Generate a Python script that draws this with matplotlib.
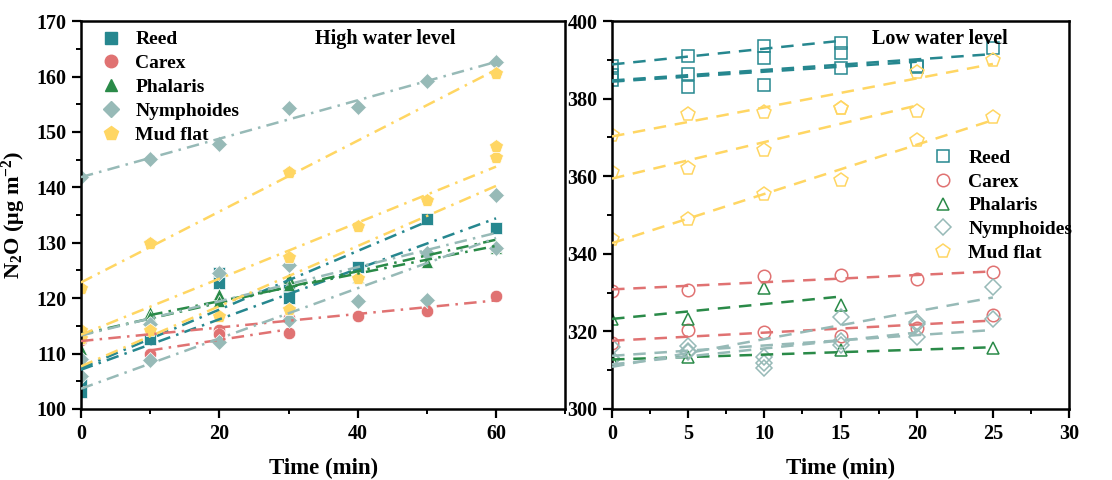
import numpy as np
import matplotlib
matplotlib.use("Agg")
import matplotlib.pyplot as plt
from matplotlib.lines import Line2D
from matplotlib.ticker import MultipleLocator

nan = np.nan
plt.rcParams['font.family'] = ['Liberation Serif', 'DejaVu Serif']
plt.rcParams['font.weight'] = 'bold'
plt.rcParams['mathtext.fontset'] = 'custom'
plt.rcParams['mathtext.rm'] = 'Liberation Serif:bold'
plt.rcParams['mathtext.it'] = 'Liberation Serif:bold'
plt.rcParams['mathtext.bf'] = 'Liberation Serif:bold'

species = ["Reed", "Carex", "Phalaris", "Nymphoides", "Mud flat"]
colors = ["#26878F", "#E07272", "#2A8A48", "#97BAB7", "#FFD663"]
markers = ["s", "o", "^", "D", "p"]

# ---- High water level (time 0..60 min) ----
t_high = [0, 10, 20, 30, 40, 50, 60]
reed_hi_1 = [104.6, 112.6, 124.5, 121.8, 125.7, 134.3, nan]
reed_hi_2 = [103.1, nan, 122.7, 120.0, nan, nan, 132.6]
carex_hi_1 = [112.5, nan, 114.3, 116.5, 116.7, 117.7, 120.3]
carex_hi_2 = [nan, 110.0, 113.6, 113.8, nan, nan, nan]
phal_hi_1 = [110.8, 117.5, 120.8, 123.6, 123.9, 128.5, 129.0]
phal_hi_2 = [nan, 116.7, 119.5, 122.4, nan, 126.6, 129.5]
nym_hi_1 = [141.9, 145.2, 147.8, 154.4, 154.5, 159.2, 162.7]
nym_hi_2 = [106.0, 108.8, 112.1, 116.1, 119.5, 119.7, 138.6]
nym_hi_3 = [109.0, 115.4, 124.5, 126.0, nan, 128.1, 129.0]
mud_hi_1 = [121.8, 130.0, nan, 142.8, nan, nan, 160.7]
mud_hi_2 = [114.3, nan, nan, 127.5, 133.0, 137.7, 145.5]
mud_hi_3 = [112.8, 114.3, 116.8, 118.0, 123.6, nan, 147.5]

high_reps = [
    [reed_hi_1, reed_hi_2],
    [carex_hi_1, carex_hi_2],
    [phal_hi_1, phal_hi_2],
    [nym_hi_1, nym_hi_2, nym_hi_3],
    [mud_hi_1, mud_hi_2, mud_hi_3],
]

# ---- Low water level (time 0..25 min) ----
t_low = [0, 5, 10, 15, 20, 25]
reed_lo_1 = [388.5, 391.0, 393.6, 394.4, nan, nan]
reed_lo_2 = [386.1, 382.9, 390.6, 387.8, 388.2, 393.0]
reed_lo_3 = [384.8, 386.3, 383.5, 391.7, 388.5, nan]
carex_lo_1 = [330.5, 330.7, 334.3, 334.6, 333.6, 335.2]
carex_lo_2 = [317.0, 320.4, 319.9, 318.8, 320.9, 324.2]
phal_lo_1 = [323.1, 323.3, 331.1, 326.9, nan, nan]
phal_lo_2 = [312.6, 313.3, nan, 315.2, nan, 315.6]
nym_lo_1 = [313.0, 314.8, 313.5, 323.6, 322.5, 331.4]
nym_lo_2 = [316.1, 316.2, 311.8, 316.5, 318.5, 323.1]
nym_lo_3 = [313.0, 315.0, 310.5, 317.5, 322.0, nan]
mud_lo_1 = [370.6, 376.0, 376.6, 377.5, 387.0, 390.0]
mud_lo_2 = [361.0, 362.0, 366.8, 377.5, 376.8, nan]
mud_lo_3 = [343.8, 349.0, 355.3, 359.0, 369.3, 375.3]

low_reps = [
    [reed_lo_1, reed_lo_2, reed_lo_3],
    [carex_lo_1, carex_lo_2],
    [phal_lo_1, phal_lo_2],
    [nym_lo_1, nym_lo_2, nym_lo_3],
    [mud_lo_1, mud_lo_2, mud_lo_3],
]

msize = {"s": 8, "o": 9, "^": 9, "D": 8, "p": 10}

fig = plt.figure(figsize=(11.12, 4.8), dpi=100)
ax1 = fig.add_axes([0.0728, 0.148, 0.4355, 0.808])
ax2 = fig.add_axes([0.5504, 0.148, 0.411, 0.808])


def draw(ax, t, reps, filled, ls):
    t = np.asarray(t, dtype=float)
    for sp, col, mk, rs in zip(species, colors, markers, reps):
        for r in rs:
            v = np.asarray(r, dtype=float)
            ok = ~np.isnan(v)
            if filled:
                ax.plot(t[ok], v[ok], linestyle='none', marker=mk, ms=msize[mk],
                        color=col, mec='white', mew=0.5, zorder=2)
            else:
                ax.plot(t[ok], v[ok], linestyle='none', marker=mk, ms=msize[mk],
                        mfc='none', mec=col, mew=1.1, zorder=2)
            k, b = np.polyfit(t[ok], v[ok], 1)
            xx = np.array([t[ok].min(), t[ok].max()])
            ax.plot(xx, k * xx + b, color=col, lw=1.8, linestyle=ls, zorder=3)


draw(ax1, t_high, high_reps, True, (0, (5, 2.5, 1, 2.5)))
draw(ax2, t_low, low_reps, False, (0, (5, 3.5)))

for ax in (ax1, ax2):
    for s in ax.spines.values():
        s.set_linewidth(1.8)
    ax.tick_params(which='major', direction='out', length=6.5, width=1.6,
                   labelsize=14.5, pad=4)
    ax.tick_params(which='minor', direction='out', length=3.5, width=1.4)
    ax.set_xlabel("Time (min)", fontsize=16.5, fontweight='bold', labelpad=10)

ax1.set_xlim(0, 70)
ax1.set_ylim(100, 170)
ax1.xaxis.set_major_locator(MultipleLocator(20))
ax1.xaxis.set_minor_locator(MultipleLocator(10))
ax1.yaxis.set_major_locator(MultipleLocator(10))
ax1.yaxis.set_minor_locator(MultipleLocator(5))
ax1.set_ylabel(r"N$_2$O ($\mu$g m$^{-2}$)", fontsize=16, fontweight='bold',
               labelpad=6)

ax2.set_xlim(0, 30)
ax2.set_ylim(300, 400)
ax2.xaxis.set_major_locator(MultipleLocator(5))
ax2.xaxis.set_minor_locator(MultipleLocator(2.5))
ax2.yaxis.set_major_locator(MultipleLocator(20))
ax2.yaxis.set_minor_locator(MultipleLocator(10))

for ax in (ax1, ax2):
    for lab in ax.get_xticklabels() + ax.get_yticklabels():
        lab.set_fontweight('bold')

ax1.text(0.628, 0.955, "High water level", transform=ax1.transAxes,
         ha='center', va='center', fontsize=14.5, fontweight='bold')
ax2.text(0.718, 0.955, "Low water level", transform=ax2.transAxes,
         ha='center', va='center', fontsize=14.5, fontweight='bold')

h1 = [Line2D([], [], linestyle='none', marker=m, ms=msize[m], color=c)
      for m, c in zip(markers, colors)]
ax1.legend(h1, species, loc='upper left', bbox_to_anchor=(0.012, 1.0),
           frameon=False, prop={'size': 14, 'weight': 'bold'},
           handletextpad=0.5, labelspacing=0.32, borderaxespad=0.1,
           handlelength=1.5)

h2 = [Line2D([], [], linestyle='none', marker=m, ms=msize[m], mfc='none',
             mec=c, mew=1.1) for m, c in zip(markers, colors)]
ax2.legend(h2, species, loc='upper left', bbox_to_anchor=(0.675, 0.69),
           frameon=False, prop={'size': 14, 'weight': 'bold'},
           handletextpad=0.55, labelspacing=0.32, borderaxespad=0.0,
           handlelength=1.5)

fig.savefig("out.png", dpi=100)
